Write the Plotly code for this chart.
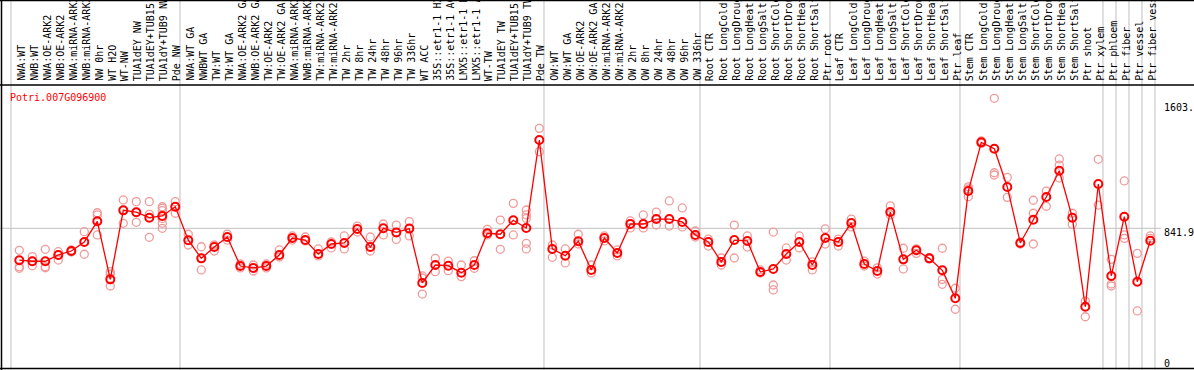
import plotly.graph_objects as go

title_text = "Potri.007G096900"

categories = [
    "NWA:WT", "NWB:WT", "NWA:OE-ARK2", "NWB:OE-ARK2", "NWA:miRNA-ARK2", "NWB:miRNA-ARK2",
    "NW 0hr", "WT H2O", "WT-NW", "TUA1dEY NW", "TUA1dEY+TUB15 NW", "TUA1dY+TUB9 NW", "Pde NW",
    "NWA:WT GA", "NWBWT GA", "TW:WT", "TW:WT GA", "NWA:OE-ARK2 GA", "NWB:OE-ARK2 GA",
    "TW:OE-ARK2", "TW:OE-ARK2 GA", "NWA:miRNA-ARK2", "NWB:miRNA-ARK2", "TW:miRNA-ARK2",
    "TW:miRNA-ARK2", "TW 2hr", "TW 8hr", "TW 24hr", "TW 48hr", "TW 96hr", "TW 336hr",
    "WT ACC", "35S::etr1-1 H2O", "35S::etr1-1 ACC", "LMX5::etr1-1 H2O", "LMX5::etr1-1 ACC",
    "WT-TW", "TUA1dEY TW", "TUA1dEY+TUB15 TW", "TUA1dY+TUB9 TW", "Pde TW",
    "OW:WT", "OW:WT GA", "OW:OE-ARK2", "OW:OE-ARK2 GA", "OW:miRNA-ARK2", "OW:miRNA-ARK2",
    "OW 2hr", "OW 8hr", "OW 24hr", "OW 48hr", "OW 96hr", "OW 336hr",
    "Root CTR", "Root LongCold", "Root LongDrought", "Root LongHeat", "Root LongSalt",
    "Root ShortCold", "Root ShortDrought", "Root ShortHeat", "Root ShortSalt", "Ptr root",
    "Leaf CTR", "Leaf LongCold", "Leaf LongDrought", "Leaf LongHeat", "Leaf LongSalt",
    "Leaf ShortCold", "Leaf ShortDrought", "Leaf ShortHeat", "Leaf ShortSalt", "Ptr leaf",
    "Stem CTR", "Stem LongCold", "Stem LongDrought", "Stem LongHeat", "Stem LongSalt",
    "Stem ShortCold", "Stem ShortDrought", "Stem ShortHeat", "Stem ShortSalt", "Ptr shoot",
    "Ptr xylem", "Ptr phloem", "Ptr fiber", "Ptr vessel", "Ptr fiber vessel",
]

mean_values = [
    655, 649, 649, 686, 709, 762, 883, 543, 947, 936, 904, 914, 968,
    772, 666, 732, 791, 621, 610, 621, 686, 785, 773, 691, 750, 756, 838, 732,
    842, 818, 840, 522, 627, 623, 582, 627, 813, 807, 889, 844, 1359,
    721, 681, 766, 598, 785, 697, 867, 867, 896, 896, 879, 803,
    762, 645, 773, 768, 586, 604, 691, 762, 627, 785,
    762, 873, 633, 592, 937, 660, 713, 666, 596, 432,
    1060, 1345, 1308, 1084, 756, 892, 1025, 1179, 904, 383,
    1101, 563, 910, 529, 769,
]

replicate_values = [
    [713, 617, 608], [676, 649, 623], [719, 617, 611], [705, 686, 656], [715, 709, 703],
    [822, 762, 690], [933, 920, 803], [588, 574, 504], [1008, 947, 871], [998, 936, 877],
    [998, 924, 789], [968, 959, 945, 900, 871, 842], [998, 968, 930],
    [807, 772, 744], [734, 666, 598], [744, 709], [808, 773], [633, 610], [627, 592],
    [633, 610], [715, 674], [797, 773], [791, 768], [721, 680], [762, 727], [797, 721],
    [855, 820], [791, 709], [867, 803], [861, 777], [881, 797], [563, 551, 457],
    [666, 588], [650, 594], [627, 559], [652, 608], [836, 803], [890, 719], [988, 803],
    [949, 920, 900, 754, 721], [1427, 1290],
    [744, 672], [721, 639], [807, 750], [627, 580], [797, 768], [715, 680], [885, 844],
    [920, 844], [937, 861], [1002, 855], [961, 850], [826, 791],
    [779, 738], [668, 627], [861, 668], [797, 732], [598, 580], [820, 510, 481],
    [727, 656], [797, 727], [645, 598], [838, 750],
    [779, 738], [896, 850], [650, 621], [610, 574], [973, 920], [725, 604], [722, 695],
    [670, 662], [725, 543, 514], [491, 368],
    [1085, 1072, 1027], [1353, 1339], [1603, 1167, 1154], [1140, 1023], [762, 750],
    [1006, 930, 750], [1060, 971], [1248, 1212, 1136], [930, 865], [416, 324],
    [1246, 978], [660, 516, 504], [1119, 803, 783], [695, 358], [797, 783],
]

group_starts = [0, 13, 41, 53, 63, 73, 84, 85, 86, 87, 88]
y_tick_values = [1603, 841.9, 0]
y_tick_labels = ["1603.", "841.9", "0"]

W, H = 1194, 370
MONO = "DejaVu Sans Mono"

def py(p):
    return 1 - p / H

xs = list(range(len(categories)))
rep_x, rep_y = [], []
for i, reps in enumerate(replicate_values):
    for v in reps:
        rep_x.append(i)
        rep_y.append(v)

fig = go.Figure()
fig.add_trace(go.Scatter(
    x=rep_x, y=rep_y, mode="markers",
    marker=dict(symbol="circle-open", size=8, color="#F09A9A", line=dict(width=1.3, color="#F09A9A")),
    hoverinfo="skip", showlegend=False,
))
fig.add_trace(go.Scatter(
    x=xs, y=mean_values, mode="lines+markers",
    line=dict(color="#FF0000", width=1.3),
    marker=dict(symbol="circle-open", size=8, color="#FF0000", line=dict(width=2, color="#FF0000")),
    showlegend=False,
))

shapes = []
for g in group_starts:
    shapes.append(dict(type="line", xref="x", yref="paper", x0=g - 0.64, x1=g - 0.64, y0=0, y1=1,
                       line=dict(color="#C0C0C0", width=1), layer="below"))
shapes.append(dict(type="line", xref="paper", yref="y", x0=0, x1=1161 / W, y0=841.9, y1=841.9,
                   line=dict(color="#C0C0C0", width=1), layer="below"))
# frame
shapes.append(dict(type="line", xref="paper", yref="paper", x0=0, x1=1, y0=py(85), y1=py(85),
                   line=dict(color="black", width=1.5)))
shapes.append(dict(type="line", xref="paper", yref="paper", x0=0, x1=1, y0=py(0.5), y1=py(0.5),
                   line=dict(color="black", width=1.5)))
shapes.append(dict(type="line", xref="paper", yref="paper", x0=0, x1=1, y0=py(368.5), y1=py(368.5),
                   line=dict(color="black", width=1.5)))
shapes.append(dict(type="line", xref="paper", yref="paper", x0=1.5 / W, x1=1.5 / W, y0=0, y1=1,
                   line=dict(color="black", width=1.5)))

annotations = []
for i, lab in enumerate(categories):
    annotations.append(dict(x=i + 0.12, y=py(83), xref="x", yref="paper", text=lab, textangle=-90,
                            xanchor="center", yanchor="bottom", showarrow=False,
                            font=dict(family=MONO, size=10, color="black")))
annotations.append(dict(x=8 / W, y=py(90), xref="paper", yref="paper", text=title_text,
                        xanchor="left", yanchor="top", showarrow=False,
                        font=dict(family=MONO, size=10, color="#FF0000")))
tick_tops = [100, 225, 356]
for lab, top in zip(y_tick_labels, tick_tops):
    annotations.append(dict(x=1162 / W, y=py(top), xref="paper", yref="paper", text=lab,
                            xanchor="left", yanchor="top", showarrow=False,
                            font=dict(family=MONO, size=10, color="black")))

x0 = -19.3 / 13
x1 = (W - 19.3) / 13
fig.update_layout(
    width=W, height=H, margin=dict(l=0, r=0, t=0, b=0),
    paper_bgcolor="white", plot_bgcolor="white",
    xaxis=dict(range=[x0, x1], visible=False, fixedrange=True),
    yaxis=dict(range=[12.3, 2178.5], visible=False, fixedrange=True),
    shapes=shapes, annotations=annotations, showlegend=False,
)
fig.write_html(
    "out.html",
    config={"displayModeBar": False},
    post_script="document.body.style.margin='0px';document.body.style.overflow='hidden';",
)
